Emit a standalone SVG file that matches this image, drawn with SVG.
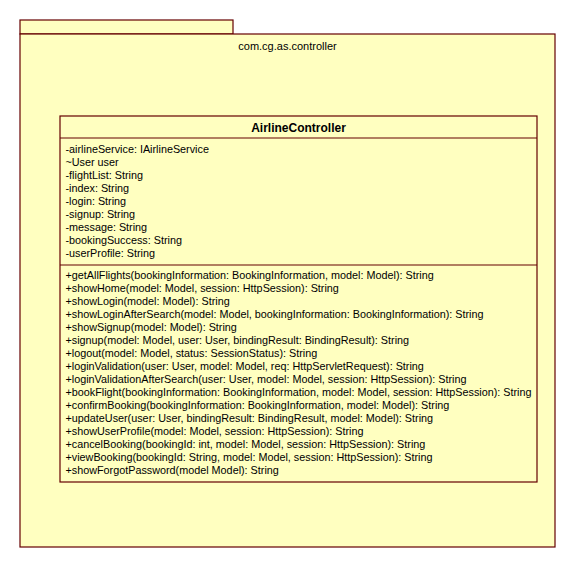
<svg xmlns="http://www.w3.org/2000/svg" width="585" height="587" viewBox="0 0 585 587">
<style>
.box{fill:#ffffc0;stroke:#650000;stroke-width:1.2}
.ln{stroke:#650000;stroke-width:1.2}
text{font-family:"Liberation Sans",Arial,sans-serif;font-size:10.8px;fill:#000}
.pk{font-size:11px}
.title{font-weight:bold;font-size:12px}
</style>
<rect width="585" height="587" fill="#fff"/>
<g id="package">
<rect class="box" x="20" y="20" width="213" height="14"/>
<rect class="box" x="20" y="34" width="535" height="513"/>
<text class="pk" x="287.5" y="50" text-anchor="middle">com.cg.as.controller</text>
</g>
<g id="AirlineController">
<rect class="box" x="60" y="116" width="477" height="366"/>
<line class="ln" x1="60" y1="138" x2="537" y2="138"/>
<line class="ln" x1="60" y1="265" x2="537" y2="265"/>
<text class="title" x="298.5" y="131.5" text-anchor="middle">AirlineController</text>
<g id="attributes">
<text x="65.5" y="153">-airlineService: IAirlineService</text>
<text x="65.5" y="166">~User user</text>
<text x="65.5" y="179">-flightList: String</text>
<text x="65.5" y="192">-index: String</text>
<text x="65.5" y="205">-login: String</text>
<text x="65.5" y="218">-signup: String</text>
<text x="65.5" y="231">-message: String</text>
<text x="65.5" y="244">-bookingSuccess: String</text>
<text x="65.5" y="257">-userProfile: String</text>
</g>
<g id="operations">
<text x="65.5" y="279">+getAllFlights(bookingInformation: BookingInformation, model: Model): String</text>
<text x="65.5" y="292">+showHome(model: Model, session: HttpSession): String</text>
<text x="65.5" y="305">+showLogin(model: Model): String</text>
<text x="65.5" y="318">+showLoginAfterSearch(model: Model, bookingInformation: BookingInformation): String</text>
<text x="65.5" y="331">+showSignup(model: Model): String</text>
<text x="65.5" y="344">+signup(model: Model, user: User, bindingResult: BindingResult): String</text>
<text x="65.5" y="357">+logout(model: Model, status: SessionStatus): String</text>
<text x="65.5" y="370">+loginValidation(user: User, model: Model, req: HttpServletRequest): String</text>
<text x="65.5" y="383">+loginValidationAfterSearch(user: User, model: Model, session: HttpSession): String</text>
<text x="65.5" y="396">+bookFlight(bookingInformation: BookingInformation, model: Model, session: HttpSession): String</text>
<text x="65.5" y="409">+confirmBooking(bookingInformation: BookingInformation, model: Model): String</text>
<text x="65.5" y="422">+updateUser(user: User, bindingResult: BindingResult, model: Model): String</text>
<text x="65.5" y="435">+showUserProfile(model: Model, session: HttpSession): String</text>
<text x="65.5" y="448">+cancelBooking(bookingId: int, model: Model, session: HttpSession): String</text>
<text x="65.5" y="461">+viewBooking(bookingId: String, model: Model, session: HttpSession): String</text>
<text x="65.5" y="474">+showForgotPassword(model Model): String</text>
</g>
</g>
</svg>
